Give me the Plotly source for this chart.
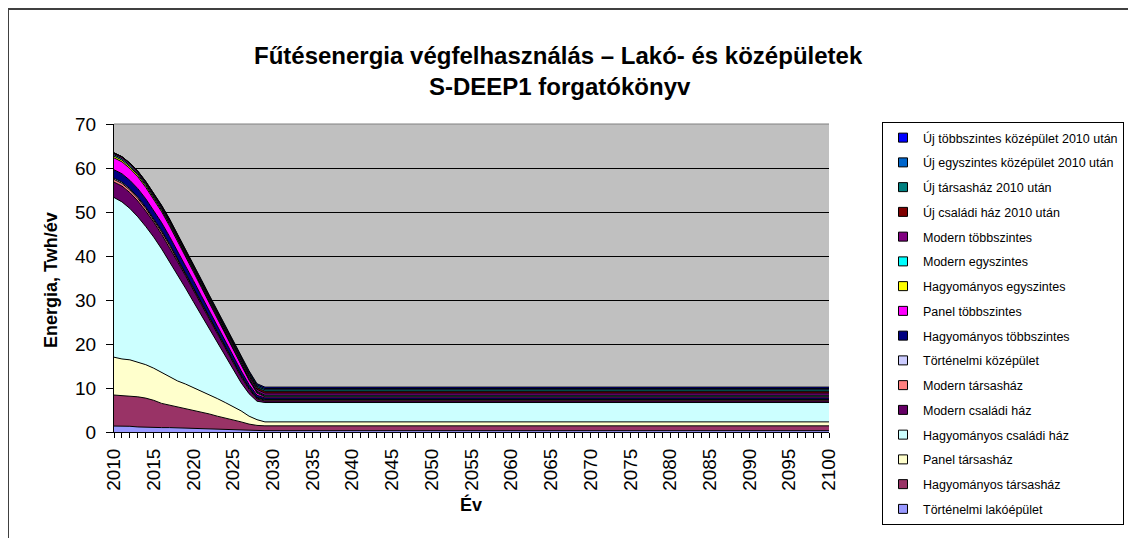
import plotly.graph_objects as go

# years; after 2029 every series stays flat until 2100
YEARS = list(range(2010, 2030)) + [2100]

# stacked bands, bottom to top (TWh/év)
tortenelmi_lako = [1.35, 1.35, 1.3, 1.15, 1.05, 1.0, 1.0, 1.0, 0.95, 0.9, 0.8, 0.75, 0.7, 0.6, 0.55, 0.5, 0.45, 0.4, 0.35, 0.3, 0.3]
hagyomanyos_tarsas = [7.05, 6.95, 6.9, 6.85, 6.65, 6.2, 5.5, 5.1, 4.75, 4.5, 4.2, 3.85, 3.4, 3.0, 2.65, 2.3, 1.85, 1.4, 1.15, 1.1, 1.1]
panel_tarsas = [8.6, 8.3, 8.2, 7.9, 7.6, 7.3, 7.0, 6.5, 5.9, 5.5, 5.1, 4.7, 4.4, 4.0, 3.5, 3.0, 2.5, 1.8, 1.3, 0.9, 0.9]
hagyomanyos_csaladi = [36.3, 35.7, 34.4, 33.0, 31.4, 29.8, 28.1, 26.1, 24.1, 21.8, 19.5, 17.2, 14.9, 12.7, 10.5, 8.3, 6.4, 5.1, 4.2, 4.4, 4.4]
modern_csaladi = [3.5, 3.6, 3.6, 3.6, 3.5, 3.4, 3.3, 3.2, 3.0, 2.8, 2.6, 2.4, 2.2, 2.0, 1.8, 1.6, 1.3, 1.0, 0.5, 0.35, 0.35]
modern_tarsas = [0.6, 0.6, 0.6, 0.6, 0.6, 0.55, 0.55, 0.5, 0.5, 0.45, 0.45, 0.4, 0.4, 0.35, 0.35, 0.3, 0.3, 0.25, 0.2, 0.2, 0.2]
tortenelmi_koz = [0.3, 0.3, 0.3, 0.3, 0.3, 0.3, 0.3, 0.3, 0.25, 0.25, 0.25, 0.25, 0.2, 0.2, 0.2, 0.2, 0.2, 0.15, 0.15, 0.15, 0.15]
hagyomanyos_tobbsz = [1.9, 1.9, 1.9, 1.9, 1.9, 1.8, 1.8, 1.7, 1.7, 1.6, 1.5, 1.4, 1.3, 1.2, 1.1, 1.0, 0.9, 0.7, 0.5, 0.35, 0.35]
panel_tobbsz = [2.7, 2.7, 2.7, 2.7, 2.6, 2.6, 2.5, 2.4, 2.3, 2.1, 2.0, 1.9, 1.8, 1.7, 1.6, 1.5, 1.3, 1.0, 0.5, 0.25, 0.25]
hagyomanyos_egysz = [0.4, 0.4, 0.4, 0.4, 0.4, 0.35, 0.35, 0.35, 0.3, 0.3, 0.3, 0.3, 0.25, 0.25, 0.25, 0.2, 0.2, 0.2, 0.15, 0.15, 0.15]
modern_egysz = [0.3, 0.3, 0.3, 0.3, 0.3, 0.3, 0.3, 0.3, 0.25, 0.25, 0.25, 0.25, 0.25, 0.25, 0.25, 0.25, 0.2, 0.2, 0.2, 0.2, 0.2]
modern_tobbsz = [0.4, 0.4, 0.4, 0.4, 0.4, 0.4, 0.4, 0.45, 0.45, 0.45, 0.45, 0.45, 0.45, 0.45, 0.45, 0.45, 0.5, 0.5, 0.5, 0.5, 0.5]
uj_csaladi = [0.0, 0.02, 0.04, 0.06, 0.08, 0.1, 0.12, 0.14, 0.17, 0.19, 0.21, 0.23, 0.25, 0.27, 0.29, 0.32, 0.34, 0.36, 0.38, 0.4, 0.4]
uj_tarsas = [0.0, 0.02, 0.04, 0.05, 0.07, 0.09, 0.11, 0.13, 0.15, 0.16, 0.18, 0.2, 0.22, 0.24, 0.26, 0.28, 0.3, 0.31, 0.33, 0.35, 0.35]
uj_egysz_koz = [0.0, 0.02, 0.03, 0.05, 0.06, 0.08, 0.09, 0.11, 0.13, 0.14, 0.16, 0.17, 0.19, 0.2, 0.22, 0.24, 0.25, 0.27, 0.28, 0.3, 0.3]
uj_tobbsz_koz = [0.0, 0.02, 0.03, 0.05, 0.06, 0.08, 0.09, 0.11, 0.13, 0.14, 0.16, 0.17, 0.19, 0.2, 0.22, 0.24, 0.25, 0.27, 0.28, 0.3, 0.3]

SERIES = [
    ("Történelmi lakóépület", tortenelmi_lako, "#9999FF"),
    ("Hagyományos társasház", hagyomanyos_tarsas, "#993366"),
    ("Panel társasház", panel_tarsas, "#FFFFCC"),
    ("Hagyományos családi ház", hagyomanyos_csaladi, "#CCFFFF"),
    ("Modern családi ház", modern_csaladi, "#660066"),
    ("Modern társasház", modern_tarsas, "#FF8080"),
    ("Történelmi középület", tortenelmi_koz, "#CCCCFF"),
    ("Hagyományos többszintes", hagyomanyos_tobbsz, "#000080"),
    ("Panel többszintes", panel_tobbsz, "#FF00FF"),
    ("Hagyományos egyszintes", hagyomanyos_egysz, "#FFFF00"),
    ("Modern egyszintes", modern_egysz, "#00FFFF"),
    ("Modern többszintes", modern_tobbsz, "#800080"),
    ("Új családi ház 2010 után", uj_csaladi, "#800000"),
    ("Új társasház 2010 után", uj_tarsas, "#008080"),
    ("Új egyszintes középület 2010 után", uj_egysz_koz, "#0066CC"),
    ("Új többszintes középület 2010 után", uj_tobbsz_koz, "#0000FF"),
]

FONT = "Arial, Liberation Sans, sans-serif"
OFF = 8  # the page body margin shifts the figure by this many pixels
W, H = 1136 - 2 * OFF, 546 - 2 * OFF
L, R, T, B = 114 - OFF, 829 - OFF, 124 - OFF, 432 - OFF  # plot area in figure pixels


def px_x(p):
    return (p - OFF - L) / (R - L)


def px_y(p):
    return (B - (p - OFF)) / (B - T)


fig = go.Figure()
for name, vals, color in SERIES:
    fig.add_trace(
        go.Scatter(
            x=YEARS,
            y=vals,
            name=name,
            stackgroup="one",
            mode="lines",
            line=dict(color="black", width=1),
            fillcolor=color,
            showlegend=False,
        )
    )

# legend entries as small bordered squares, top of the stack first
for name, vals, color in reversed(SERIES):
    fig.add_trace(
        go.Scatter(
            x=[None],
            y=[None],
            name=name,
            legendgroup=name,
            mode="markers",
            marker=dict(symbol="square", size=9, color=color, line=dict(color="black", width=1)),
        )
    )

fig.update_layout(
    width=W,
    height=H,
    margin=dict(l=L, r=W - R, t=T, b=H - B, pad=0, autoexpand=False),
    paper_bgcolor="white",
    plot_bgcolor="#C0C0C0",
    font=dict(family=FONT, color="black"),
    showlegend=True,
    legend=dict(
        x=px_x(882),
        y=px_y(122),
        xanchor="left",
        yanchor="top",
        bgcolor="white",
        bordercolor="black",
        borderwidth=1,
        font=dict(size=12.5, family=FONT),
        traceorder="grouped",
        tracegroupgap=5.5,
        itemwidth=30,
        maxheight=450,
    ),
    xaxis=dict(
        range=[2010, 2100],
        tickmode="linear",
        tick0=2010,
        dtick=5,
        tickangle=-90,
        ticks="outside",
        ticklen=5,
        tickcolor="black",
        tickfont=dict(size=19),
        ticklabelstandoff=3,
        automargin=False,
        showgrid=False,
        zeroline=False,
        showline=True,
        linecolor="black",
        linewidth=1,
        minor=dict(dtick=1, ticks="outside", ticklen=5, tickcolor="black", showgrid=False),
    ),
    yaxis=dict(
        range=[0, 70],
        tickmode="linear",
        tick0=0,
        dtick=10,
        ticks="outside",
        ticklen=7,
        tickcolor="black",
        tickfont=dict(size=19),
        ticklabelstandoff=6,
        automargin=False,
        showgrid=True,
        gridcolor="black",
        gridwidth=1,
        zeroline=False,
        showline=True,
        linecolor="black",
        linewidth=1,
    ),
    annotations=[
        dict(
            text="<b>Fűtésenergia végfelhasználás – Lakó- és középületek</b>",
            xref="paper", yref="paper", x=px_x(558), y=px_y(55),
            xanchor="center", yanchor="middle", showarrow=False,
            font=dict(size=24, family=FONT),
        ),
        dict(
            text="<b>S-DEEP1 forgatókönyv</b>",
            xref="paper", yref="paper", x=px_x(560), y=px_y(86),
            xanchor="center", yanchor="middle", showarrow=False,
            font=dict(size=24, family=FONT),
        ),
        dict(
            text="<b>Energia, Twh/év</b>",
            xref="paper", yref="paper", x=px_x(51), y=px_y(280),
            xanchor="center", yanchor="middle", showarrow=False, textangle=-90,
            font=dict(size=18, family=FONT),
        ),
        dict(
            text="<b>Év</b>",
            xref="paper", yref="paper", x=px_x(471), y=px_y(504),
            xanchor="center", yanchor="middle", showarrow=False,
            font=dict(size=18, family=FONT),
        ),
    ],
    shapes=[
        # outer chart frame (only left and top edges fall inside the picture)
        dict(type="rect", xref="paper", yref="paper",
             x0=px_x(8), y0=px_y(600), x1=px_x(1200), y1=px_y(9),
             line=dict(color="#404040", width=2), layer="below"),
        # grey top border of the plot area
        dict(type="line", xref="paper", yref="paper",
             x0=0, x1=1, y0=1, y1=1,
             line=dict(color="#808080", width=1)),
    ],
)

fig.write_html("out.html")
